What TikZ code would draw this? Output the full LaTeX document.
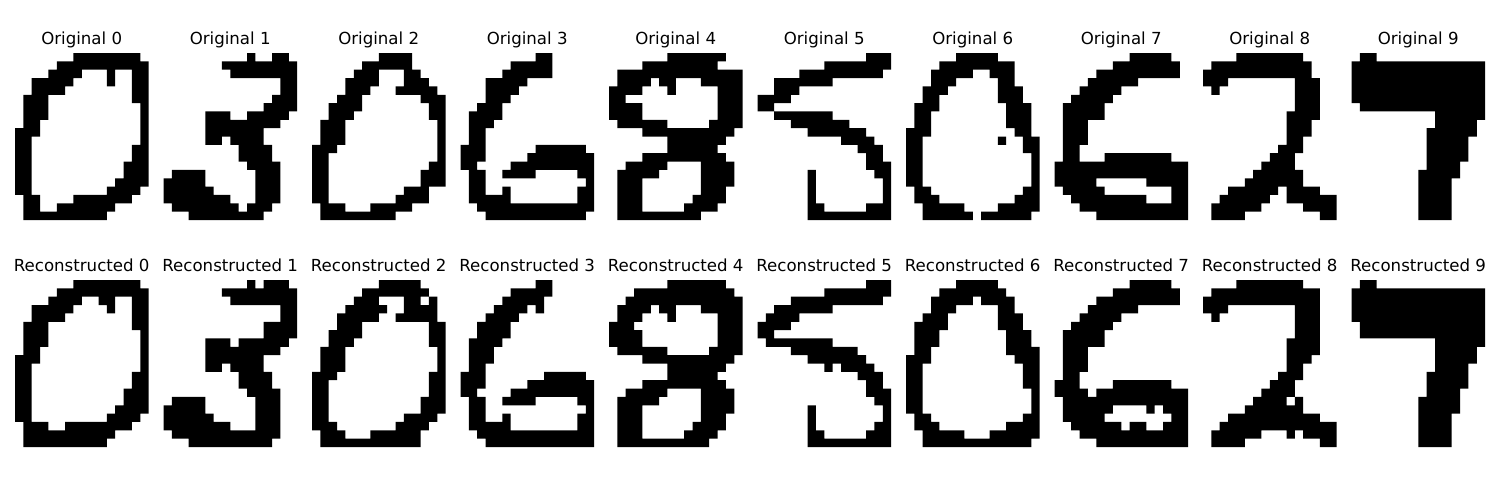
\documentclass[tikz,border=0pt]{standalone}
\usepackage{fontspec}
\setmainfont{DejaVu Sans}
\newcommand\cellsz{8.35}
\newcommand\bitpanel[3]{%
  \fill[black] \foreach \r/\a/\b in {#3} {
    ({#1+\a*\cellsz},{#2+\r*\cellsz}) rectangle ({#1+\b*\cellsz},{#2+(\r+1)*\cellsz})
  };%
}
\tikzset{paneltitle/.style={anchor=base,inner sep=0pt,font=\fontsize{12}{14}\selectfont,text=black}}
\begin{document}
\begin{tikzpicture}[x=0.01in,y=-0.01in]
\useasboundingbox (0,0) rectangle (1500,500);
\fill[white] (0,0) rectangle (1500,500);
% Titles
\node[paneltitle] (o0) at (81.7,44) {Original 0};
\node[paneltitle] (o1) at (230.2,44) {Original 1};
\node[paneltitle] (o2) at (378.7,44) {Original 2};
\node[paneltitle] (o3) at (527.2,44) {Original 3};
\node[paneltitle] (o4) at (675.7,44) {Original 4};
\node[paneltitle] (o5) at (824.2,44) {Original 5};
\node[paneltitle] (o6) at (972.7,44) {Original 6};
\node[paneltitle] (o7) at (1121.2,44) {Original 7};
\node[paneltitle] (o8) at (1269.7,44) {Original 8};
\node[paneltitle] (o9) at (1418.2,44) {Original 9};
\node[paneltitle] (r0) at (81.7,271) {Reconstructed 0};
\node[paneltitle] (r1) at (230.2,271) {Reconstructed 1};
\node[paneltitle] (r2) at (378.7,271) {Reconstructed 2};
\node[paneltitle] (r3) at (527.2,271) {Reconstructed 3};
\node[paneltitle] (r4) at (675.7,271) {Reconstructed 4};
\node[paneltitle] (r5) at (824.2,271) {Reconstructed 5};
\node[paneltitle] (r6) at (972.7,271) {Reconstructed 6};
\node[paneltitle] (r7) at (1121.2,271) {Reconstructed 7};
\node[paneltitle] (r8) at (1269.7,271) {Reconstructed 8};
\node[paneltitle] (r9) at (1418.2,271) {Reconstructed 9};
% Original row
\bitpanel{15}{53}{0/7/15,1/5/16,2/4/8,2/11/12,2/14/16,3/2/7,3/11/12,3/14/16,4/2/6,4/14/16,5/1/4,5/14/16,6/1/4,6/15/16,7/1/4,7/15/16,8/1/3,8/15/16,9/0/3,9/15/16,10/0/2,10/15/16,11/0/2,11/14/16,12/0/2,12/14/16,13/0/2,13/13/16,14/0/2,14/13/16,15/0/2,15/12/16,16/0/2,16/11/15,17/1/3,17/7/14,18/1/3,18/5/12,19/1/11}
\bitpanel{163.5}{53}{0/10/11,0/13/15,1/7/16,2/8/16,3/14/16,4/14/16,5/13/16,6/12/16,7/5/8,7/10/15,8/5/14,9/5/12,10/5/7,10/8/12,11/9/13,12/9/13,13/10/14,14/1/5,14/11/14,15/0/5,15/11/14,16/0/6,16/11/14,17/0/8,17/11/14,18/1/9,18/10/13,19/3/12}
\bitpanel{312}{53}{0/8/12,1/6/12,2/5/8,2/11/13,3/4/8,3/11/14,4/4/7,4/10/15,5/3/6,5/13/16,6/2/6,6/14/16,7/2/5,7/14/16,8/1/4,8/15/16,9/1/4,9/15/16,10/1/4,10/15/16,11/0/3,11/15/16,12/0/2,12/15/16,13/0/2,13/14/16,14/0/2,14/13/16,15/0/2,15/13/16,16/0/2,16/11/14,17/0/2,17/10/14,18/1/4,18/7/12,19/1/10}
\bitpanel{460.5}{53}{0/9/11,1/6/11,2/5/11,3/3/8,4/3/7,5/3/6,6/2/5,7/1/5,8/1/4,9/1/3,10/1/3,11/0/3,11/9/15,12/0/3,12/8/16,13/0/2,13/6/16,14/1/3,14/5/9,14/14/16,15/1/3,15/15/16,16/1/3,16/5/6,16/14/16,17/1/6,17/14/16,18/2/16,19/3/15}
\bitpanel{609}{53}{0/7/14,1/4/13,2/1/16,3/1/5,3/6/8,3/11/16,4/0/4,4/7/8,4/13/16,5/0/2,5/13/16,6/0/4,6/13/16,7/0/4,7/13/16,8/1/7,8/12/16,9/4/15,10/7/14,11/7/13,12/4/14,13/2/7,13/11/15,14/1/6,14/11/15,15/1/4,15/11/15,16/1/4,16/11/14,17/1/4,17/10/14,18/1/4,18/9/13,19/1/11}
\bitpanel{757.5}{53}{0/13/16,1/8/16,2/5/15,3/2/9,4/2/5,5/0/4,6/0/2,7/2/9,8/4/11,9/6/13,10/10/14,11/12/15,12/13/15,13/13/16,14/6/7,14/14/16,15/6/7,15/15/16,16/6/7,16/15/16,17/6/7,17/15/16,18/6/8,18/13/16,19/6/16}
\bitpanel{906}{53}{0/6/11,1/4/13,2/3/8,2/10/13,3/3/6,3/11/13,4/2/5,4/11/14,5/2/4,5/11/14,6/1/4,6/12/15,7/1/3,7/12/15,8/1/3,8/12/15,9/0/3,9/13/15,10/0/2,10/11/12,10/14/16,11/0/2,11/14/16,12/0/2,12/15/16,13/0/2,13/15/16,14/0/2,14/15/16,15/0/2,15/15/16,16/1/3,16/14/16,17/1/4,17/13/16,18/2/7,18/11/16,19/2/8,19/9/15}
\bitpanel{1054.5}{53}{0/9/14,1/7/15,2/5/15,3/4/10,4/3/8,5/2/7,6/1/6,7/1/6,8/1/4,9/1/4,10/1/4,11/1/3,12/1/3,12/6/14,13/0/16,14/0/16,15/0/5,15/11/16,16/1/6,16/14/16,17/2/11,17/14/16,18/3/16,19/5/16}
\bitpanel{1203}{53}{0/4/12,1/1/13,2/0/13,3/0/3,3/11/14,4/1/2,4/11/14,5/11/14,6/11/14,7/10/14,8/10/13,9/10/13,10/10/12,11/9/12,12/8/11,13/7/11,14/6/12,15/5/12,16/3/9,16/10/14,17/2/8,17/10/16,18/1/7,18/12/16,19/1/5,19/14/16}
\bitpanel{1351.5}{53}{0/1/3,1/0/16,2/0/16,3/0/16,4/0/16,5/0/16,6/1/16,7/10/16,8/10/15,9/9/15,10/9/14,11/9/14,12/9/14,13/9/13,14/8/13,15/8/12,16/8/12,17/8/12,18/8/12,19/8/12}
% Reconstructed row
\bitpanel{15}{280}{0/7/15,1/5/16,2/4/8,2/10/12,2/14/16,3/2/7,3/11/12,3/14/16,4/2/6,4/14/16,5/1/4,5/14/16,6/1/4,6/15/16,7/1/4,7/15/16,8/1/3,8/15/16,9/0/3,9/15/16,10/0/2,10/15/16,11/0/2,11/14/16,12/0/2,12/14/16,13/0/2,13/13/16,14/0/2,14/13/16,15/0/2,15/12/16,16/0/2,16/11/15,17/1/4,17/6/14,18/1/12,19/1/11}
\bitpanel{163.5}{280}{0/10/11,0/12/15,1/7/16,2/8/16,3/14/16,4/14/16,5/12/16,6/12/16,7/5/8,7/9/15,8/5/14,9/5/12,10/5/7,10/8/12,11/9/13,12/9/13,13/10/14,14/1/5,14/11/14,15/0/5,15/11/14,16/0/6,16/11/14,17/0/8,17/11/14,18/1/14,19/3/13}
\bitpanel{312}{280}{0/8/13,1/6/14,2/5/8,2/11/13,2/14/15,3/4/9,3/11/15,4/3/8,4/10/15,5/3/6,5/14/16,6/2/6,6/14/16,7/2/5,7/14/16,8/1/4,8/15/16,9/1/4,9/15/16,10/1/4,10/15/16,11/0/3,11/14/16,12/0/2,12/14/16,13/0/2,13/14/16,14/0/2,14/13/16,15/0/2,15/13/16,16/0/2,16/11/15,17/0/3,17/10/14,18/1/4,18/7/13,19/1/13}
\bitpanel{460.5}{280}{0/9/11,1/6/11,2/5/10,3/4/8,3/9/10,4/3/7,5/2/6,6/2/6,7/1/5,8/1/4,9/1/4,10/1/3,11/0/3,11/10/15,12/0/3,12/8/16,13/0/2,13/6/16,14/1/3,14/5/9,14/14/16,15/1/3,15/15/16,16/1/3,16/5/6,16/14/16,17/1/6,17/14/16,18/2/16,19/3/16}
\bitpanel{609}{280}{0/7/14,1/3/15,2/2/16,3/1/5,3/6/8,3/11/16,4/1/4,4/7/8,4/13/16,5/0/3,5/13/16,6/0/4,6/13/16,7/0/4,7/13/16,8/1/7,8/12/16,9/4/15,10/7/14,11/7/13,12/4/14,13/2/7,13/11/15,14/1/6,14/11/15,15/1/4,15/11/15,16/1/4,16/11/14,17/1/4,17/10/14,18/1/4,18/9/13,19/1/12}
\bitpanel{757.5}{280}{0/13/16,1/8/16,2/4/15,3/2/9,4/1/5,5/0/4,6/0/2,7/1/9,8/4/12,9/6/13,10/8/9,10/10/14,11/12/15,12/13/15,13/13/16,14/14/16,15/6/7,15/15/16,16/6/7,16/15/16,17/6/7,17/14/16,18/6/8,18/13/16,19/6/16}
\bitpanel{906}{280}{0/6/11,1/4/12,2/3/8,2/9/13,3/3/6,3/11/13,4/2/5,4/11/14,5/1/5,5/11/14,6/1/4,6/12/15,7/1/4,7/12/15,8/1/3,8/12/16,9/0/3,9/13/16,10/0/2,10/14/16,11/0/2,11/14/16,12/0/2,12/14/16,13/0/2,13/15/16,14/0/2,14/15/16,15/0/2,15/15/16,16/1/3,16/14/16,17/1/4,17/12/16,18/2/7,18/10/16,19/2/15}
\bitpanel{1054.5}{280}{0/9/14,1/7/15,2/5/15,3/4/10,4/3/8,5/2/7,6/1/6,7/1/6,8/1/4,9/1/4,10/1/4,11/1/3,12/0/3,12/7/14,13/0/4,13/5/16,14/1/16,15/1/7,15/11/12,15/13/16,16/1/6,16/14/16,17/2/8,17/9/11,17/13/16,18/3/16,19/5/16}
\bitpanel{1203}{280}{0/4/12,1/1/14,2/0/14,3/0/3,3/11/14,4/1/2,4/11/14,5/11/14,6/11/14,7/10/14,8/10/14,9/10/13,10/10/12,11/9/12,12/8/11,13/7/11,14/6/10,14/11/12,15/5/12,16/3/14,17/2/16,18/1/7,18/10/11,18/12/16,19/1/5,19/14/16}
\bitpanel{1351.5}{280}{0/1/3,1/0/16,2/0/16,3/0/16,4/0/16,5/1/16,6/1/16,7/10/16,8/10/15,9/10/15,10/10/14,11/9/14,12/9/14,13/9/13,14/8/13,15/8/13,16/8/12,17/8/12,18/8/12,19/8/12}
\end{tikzpicture}
\end{document}
